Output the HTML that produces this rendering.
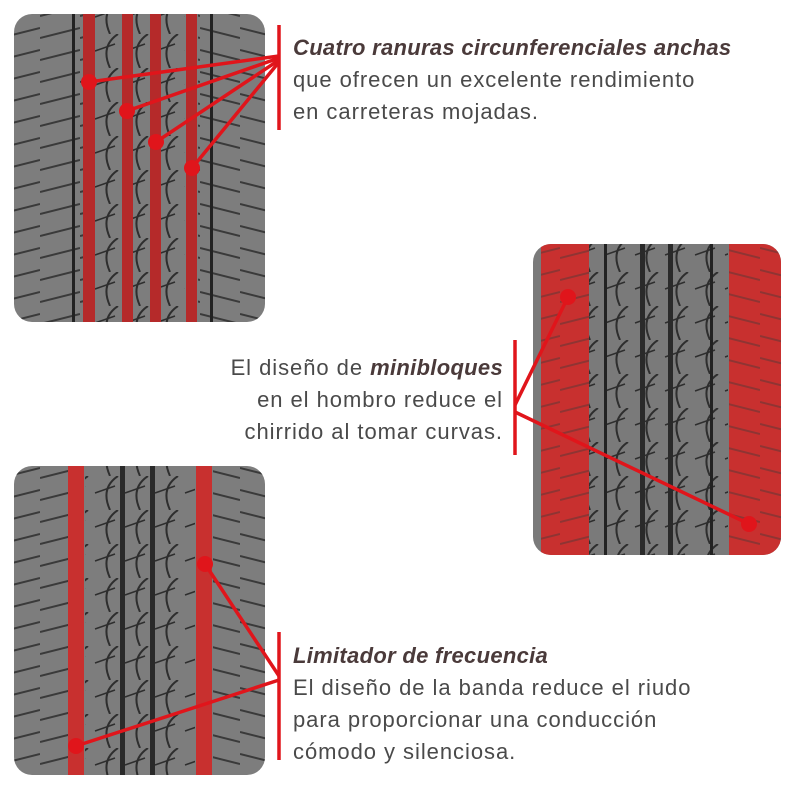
<!DOCTYPE html>
<html><head><meta charset="utf-8"><style>
body{margin:0;background:#fff;width:800px;height:800px;overflow:hidden;font-family:"Liberation Sans",sans-serif}
.t{position:absolute;color:#4a4a4a;font-size:22px;line-height:32px;letter-spacing:0.95px;white-space:nowrap}
.t b{font-style:italic;color:#4a3a3a;letter-spacing:0.3px}
</style></head><body>
<svg width="800" height="800" style="position:absolute;left:0;top:0">
<defs>
<pattern id="sip" width="40" height="22" patternUnits="userSpaceOnUse">
<path d="M0 16 L40 6" stroke="#3a3a3a" stroke-width="2"/>
</pattern>
<pattern id="sipR" width="40" height="22" patternUnits="userSpaceOnUse">
<path d="M0 6 L40 16" stroke="#3a3a3a" stroke-width="2"/>
</pattern>
<pattern id="cen" width="30" height="34" patternUnits="userSpaceOnUse">
<path d="M28 0 Q10 12 20 34" stroke="#2e2e2e" stroke-width="2" fill="none"/>
<path d="M5 17 L25 10" stroke="#2e2e2e" stroke-width="1.5"/>
</pattern>
<clipPath id="c1"><rect x="14" y="14" width="251" height="308" rx="18"/></clipPath>
<clipPath id="c2"><rect x="533" y="244" width="248" height="311" rx="18"/></clipPath>
<clipPath id="c3"><rect x="14" y="466" width="251" height="309" rx="18"/></clipPath>
</defs>
<g clip-path="url(#c1)">
<rect x="14" y="14" width="251" height="308" fill="#7d7d7d"/>
<rect x="14" y="14" width="70" height="308" fill="url(#sip)"/>
<rect x="95" y="14" width="90" height="308" fill="url(#cen)"/>
<rect x="198" y="14" width="67" height="308" fill="url(#sipR)"/>
<rect x="72" y="14" width="3" height="308" fill="#222"/>
<rect x="210" y="14" width="3" height="308" fill="#222"/>
<rect x="83" y="14" width="12" height="308" fill="#b52a2a"/>
<rect x="122" y="14" width="11" height="308" fill="#b52a2a"/>
<rect x="150" y="14" width="11" height="308" fill="#b52a2a"/>
<rect x="186" y="14" width="11" height="308" fill="#b52a2a"/>
</g>
<g clip-path="url(#c2)">
<rect x="533" y="244" width="248" height="311" fill="#7a7a7a"/>
<rect x="588" y="244" width="140" height="311" fill="url(#cen)"/>
<rect x="541" y="244" width="48" height="311" fill="#c8302f"/>
<rect x="541" y="244" width="48" height="311" fill="url(#sip)" opacity=".4"/>
<rect x="729" y="244" width="52" height="311" fill="#c8302f"/>
<rect x="729" y="244" width="52" height="311" fill="url(#sipR)" opacity=".4"/>
<rect x="640" y="244" width="5" height="311" fill="#2a2a2a"/>
<rect x="668" y="244" width="5" height="311" fill="#2a2a2a"/>
<rect x="604" y="244" width="3" height="311" fill="#222"/>
<rect x="710" y="244" width="3" height="311" fill="#222"/>
</g>
<g clip-path="url(#c3)">
<rect x="14" y="466" width="251" height="309" fill="#7d7d7d"/>
<rect x="14" y="466" width="54" height="309" fill="url(#sip)"/>
<rect x="85" y="466" width="110" height="309" fill="url(#cen)"/>
<rect x="213" y="466" width="52" height="309" fill="url(#sipR)"/>
<rect x="120" y="466" width="5" height="309" fill="#2a2a2a"/>
<rect x="150" y="466" width="5" height="309" fill="#2a2a2a"/>
<rect x="68" y="466" width="16" height="309" fill="#c8302f"/>
<rect x="196" y="466" width="16" height="309" fill="#c8302f"/>
</g>
<g stroke="#e0151b" stroke-width="3.5" fill="none">
<line x1="279" y1="25" x2="279" y2="130"/>
<line x1="89" y1="82" x2="279" y2="56"/>
<line x1="127" y1="111" x2="279" y2="58"/>
<line x1="156" y1="142" x2="279" y2="60"/>
<line x1="192" y1="168" x2="279" y2="62"/>
<line x1="515" y1="340" x2="515" y2="455"/>
<line x1="515" y1="405" x2="568" y2="297"/>
<line x1="515" y1="412" x2="749" y2="524"/>
<line x1="279" y1="632" x2="279" y2="760"/>
<line x1="205" y1="564" x2="279" y2="676"/>
<line x1="76" y1="746" x2="279" y2="680"/>
</g>
<g fill="#e0151b">
<circle cx="89" cy="82" r="8"/><circle cx="127" cy="111" r="8"/><circle cx="156" cy="142" r="8"/><circle cx="192" cy="168" r="8"/>
<circle cx="568" cy="297" r="8"/><circle cx="749" cy="524" r="8"/>
<circle cx="205" cy="564" r="8"/><circle cx="76" cy="746" r="8"/>
</g>
</svg>
<div class="t" style="left:293px;top:32px"><b>Cuatro ranuras circunferenciales anchas</b><br>que ofrecen un excelente rendimiento<br>en carreteras mojadas.</div>
<div class="t" style="right:297px;top:352px;text-align:right">El diseño de <b>minibloques</b><br>en el hombro reduce el<br>chirrido al tomar curvas.</div>
<div class="t" style="left:293px;top:640px"><b>Limitador de frecuencia</b><br>El diseño de la banda reduce el riudo<br>para proporcionar una conducción<br>cómodo y silenciosa.</div>
</body></html>
